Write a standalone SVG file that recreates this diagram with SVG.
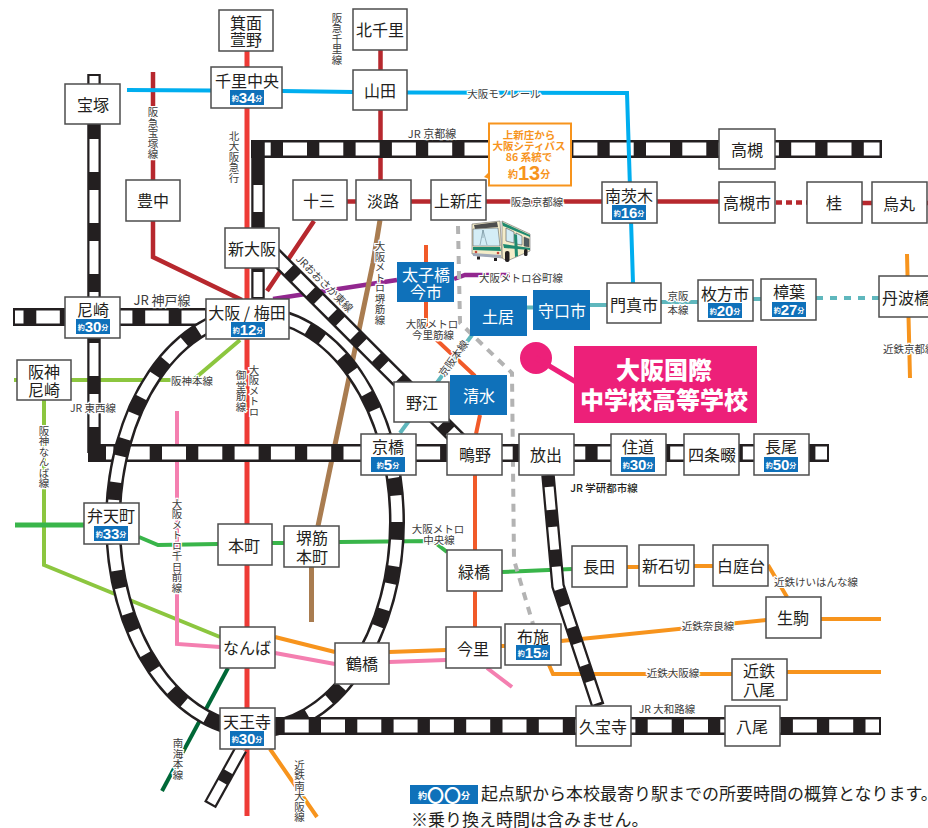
<svg xmlns="http://www.w3.org/2000/svg" width="928" height="828" viewBox="0 0 928 828">
<style>
text{font-family:"Noto Sans CJK JP","Noto Sans",sans-serif;fill:#231f20}
.ln{fill:none;stroke-linejoin:miter}
.red{stroke:#ee3b36;stroke-width:5}
.hk{stroke:#b7282e;stroke-width:4.5}
.mono{stroke:#00aeef;stroke-width:4}
.tani{stroke:#92278f;stroke-width:4.5}
.ima{stroke:#f15a29;stroke-width:4}
.keihan{stroke:#5fb7bd;stroke-width:4}
.brown{stroke:#a97c50;stroke-width:5}
.hs{stroke:#8cc63f;stroke-width:4}
.chuo{stroke:#39b54a;stroke-width:4}
.pink{stroke:#f47fb0;stroke-width:4}
.kin{stroke:#f7941d;stroke-width:4}
.nankai{stroke:#006837;stroke-width:4}
.bus{stroke:#b3b3b3;stroke-width:4;stroke-dasharray:8 7}
.jr{stroke:#231f20;stroke-width:18}
.jw{stroke:#fff;stroke-width:13}
.jrn{stroke:#231f20;stroke-width:13.5}
.jwn{stroke:#fff;stroke-width:9}
.st rect.b{fill:#fff;stroke:#4d4d4d;stroke-width:1.5}
.st text{font-size:16px;text-anchor:middle;dominant-baseline:central}
.blue rect{fill:#0f71ba}
.blue text{fill:#fff;font-size:16px;text-anchor:middle;dominant-baseline:central}
rect.t{fill:#0f71ba}
.st text.m{fill:#fff;font:bold 15px "Liberation Sans","Noto Sans CJK JP",sans-serif}
.s{font-size:7px;font-weight:700;font-family:"Noto Sans CJK JP",sans-serif}
.l{font-size:10.5px;fill:#3c3c3c;text-anchor:middle;dominant-baseline:central;paint-order:stroke;stroke:#fff;stroke-width:2.5px}
.v{writing-mode:vertical-rl;text-orientation:upright}
.o{fill:#f7941d;font-weight:700;text-anchor:middle;dominant-baseline:central}
</style>
<g id="connectors">
<path class="ln red" d="M247 51V816"/>
<path class="ln hk" d="M153 72V180M153 221V257L242 300M380.500 50V180M347 201.500H356M411 201.500H431M486 201.500H602M657 201.500H719M862 203H872M927 203H928M314 221L267 291"/>
<path class="ln hk" d="M775 202.500H807" style="stroke-dasharray:6 4;stroke-dashoffset:-1"/>
<path class="ln tani" d="M273 299L397 280M454 279L465 275H510"/>
<path class="ln ima" d="M426 245V262M426 302V330L475 376M480 415L476 434M475 475V627"/>
<path class="ln keihan" d="M472 335L400 433M527 307.500H533M590 305H607M661 302L698 302M753 299H761"/>
<path class="ln keihan" d="M816 298H879" style="stroke-dasharray:7 7"/>
<path class="ln brown" d="M380 220L373 263L318 526M311.500 567V622"/>
<path class="ln hs" d="M14 380H170M170 380H193L240 340M44 400V565L220 637"/>
<path class="ln chuo" d="M15 525H84" style="stroke-width:5"/>
<path class="ln chuo" d="M139 537L158 545L218 544M272 543H284M339 542L433 541L447 552M502 572L572 569"/>
<path class="ln pink" d="M177 411V644L220 647M275 653L335 664M389 662L446 660M487 668L512 687"/>
<path class="ln kin" d="M275 637L335 652M389 652L446 650M501 646H505M561 641L766 620M821 619H881M549 665L553 674H732M787 672H881M627 567H639M694 566H713M768 565L787 597M907 254L910 378M270 749L317 817"/>
<path class="ln nankai" d="M228 668L162 791"/>
<path class="ln bus" d="M458 226L460 323L512 373L514 560L533 624"/>
<path class="ln jrn" d="M94 74V453"/>
<rect x="89.500" y="76" width="9" height="9" fill="#fff"/>
<path class="ln jwn" d="M94 76V445" style="stroke-dasharray:33 18;stroke-dashoffset:39"/>
<path class="ln jr" d="M13 317H206"/>
<path class="ln jw" d="M15 317H206" style="stroke-dasharray:23.500 12.800;stroke-dashoffset:15"/>
<path class="ln jr" d="M251 149H882"/>
<path class="ln jw" d="M253 149H879.500" style="stroke-dasharray:24 12.300;stroke-dashoffset:6.300"/>
<path class="ln jrn" d="M258 142V300"/>
<path class="ln jwn" d="M258 185V212M258 272V297"/>
<path class="ln jr" d="M88 453H829" />
<path class="ln jw" d="M106 453H827" style="stroke-dasharray:24 12.300;stroke-dashoffset:16.600"/>
<path class="ln jr" d="M270 251L460 441" style="stroke-width:17"/>
<path class="ln jw" d="M270 251L460 441" style="stroke-width:12;stroke-dasharray:20 11;stroke-dashoffset:24.500"/>
<path class="ln" d="M397 522A142 208 0 1 1 113 522A142 208 0 1 1 397 522" style="stroke:#231f20;stroke-width:16"/>
<path class="ln" pathLength="1125" d="M397 522A142 208 0 1 1 113 522A142 208 0 1 1 397 522" style="stroke:#fff;stroke-width:11;stroke-dasharray:27 18;stroke-dashoffset:27"/>
<path class="ln jrn" d="M548 475L558 586L598 706"/>
<path class="ln jwn" d="M548 475L558 586L598 706" style="stroke-dasharray:23 17;stroke-dashoffset:28"/>
<path class="ln jr" d="M273 726H881"/>
<path class="ln jw" d="M273 726H879" style="stroke-dasharray:24 12.300;stroke-dashoffset:24.600"/>
<path class="ln jrn" d="M241 749L210 805"/>
<path class="ln jwn" d="M241 749L211 803" style="stroke-dasharray:26 12"/>
<path class="ln mono" d="M127 90L211 90.500M282 91L353 92M407 92.500L627 93L633 283"/>
</g>
<g id="labels">
<text class="l v" x="337" y="39">阪急千里線</text>
<text class="l v" x="153" y="133.500">阪急宝塚線</text>
<text class="l v" x="234" y="157">北大阪急行</text>
<text class="l v" x="254" y="391">大阪メトロ</text>
<text class="l v" x="241" y="391">御堂筋線</text>
<text class="l v" x="380" y="283">大阪メトロ堺筋線</text>
<text class="l v" x="44" y="457">阪神なんば線</text>
<text class="l v" x="177" y="546">大阪メトロ千日前線</text>
<text class="l v" x="178" y="759">南海本線</text>
<text class="l v" x="299.500" y="791">近鉄南大阪線</text>
<text class="l" transform="translate(325 283) rotate(45)">JRおおさか東線</text>
<text class="l" transform="translate(453 358) rotate(-54)">京阪本線</text>
<text class="l" style="font-size:11px" x="432" y="133">JR 京都線</text>
<text class="l" style="font-size:13px" x="162" y="299">JR 神戸線</text>
<text class="l" x="504" y="93">大阪モノレール</text>
<text class="l" x="537" y="201.500">阪急京都線</text>
<text class="l" x="192" y="380">阪神本線</text>
<text class="l" x="93" y="407">JR 東西線</text>
<text class="l" x="521" y="277">大阪メトロ谷町線</text>
<text class="l" x="432" y="323">大阪メトロ</text>
<text class="l" x="433" y="334">今里筋線</text>
<text class="l" x="678" y="295">京阪</text>
<text class="l" x="678" y="309">本線</text>
<text class="l" style="text-anchor:start" x="883" y="348">近鉄京都線</text>
<text class="l" style="font-weight:500;fill:#231f20" x="604" y="487">JR 学研都市線</text>
<text class="l" x="438" y="528">大阪メトロ</text>
<text class="l" x="439" y="539">中央線</text>
<text class="l" x="816" y="581">近鉄けいはんな線</text>
<text class="l" x="708" y="625">近鉄奈良線</text>
<text class="l" x="673" y="672">近鉄大阪線</text>
<text class="l" x="667" y="708">JR 大和路線</text>
</g>
<g id="n-minoh" class="st"><rect class="b" x="219" y="10" width="54" height="41"/><text x="246" y="22">箕面</text><text x="246" y="39">萱野</text></g>
<g id="n-senri" class="st"><rect class="b" x="211" y="67" width="71" height="41"/><text x="247" y="80">千里中央</text><rect class="t" x="230" y="90" width="34" height="15"/><text class="m" x="247" y="97.500"><tspan class="s">約</tspan>34<tspan class="s">分</tspan></text></g>
<g id="n-kitasenri" class="st"><rect class="b" x="353" y="9" width="54" height="41"/><text x="380" y="29">北千里</text></g>
<g id="n-yamada" class="st"><rect class="b" x="353" y="70" width="54" height="40"/><text x="380" y="90">山田</text></g>
<g id="n-takarazuka" class="st"><rect class="b" x="65" y="84" width="55" height="40"/><text x="93" y="104">宝塚</text></g>
<g id="n-toyonaka" class="st"><rect class="b" x="126" y="180" width="54" height="41"/><text x="153" y="200">豊中</text></g>
<g id="n-juso" class="st"><rect class="b" x="293" y="180" width="54" height="40"/><text x="319" y="200">十三</text></g>
<g id="n-awaji" class="st"><rect class="b" x="356" y="180" width="55" height="40"/><text x="383" y="200">淡路</text></g>
<g id="n-kamishinjo" class="st"><rect class="b" x="431" y="180" width="55" height="40"/><text x="458" y="200">上新庄</text></g>
<g id="n-shinosaka" class="st"><rect class="b" x="225" y="228" width="54" height="40"/><text x="252" y="248">新大阪</text></g>
<g id="n-umeda" class="st"><rect class="b" x="206" y="299" width="83" height="40"/><text x="247" y="312">大阪 / 梅田</text><rect class="t" x="231" y="322" width="34" height="15"/><text class="m" x="248" y="329.500"><tspan class="s">約</tspan>12<tspan class="s">分</tspan></text></g>
<g id="n-amagasaki" class="st"><rect class="b" x="65" y="297" width="55" height="41"/><text x="93" y="309">尼崎</text><rect class="t" x="76" y="319" width="34" height="15"/><text class="m" x="93" y="326.500"><tspan class="s">約</tspan>30<tspan class="s">分</tspan></text></g>
<g id="n-hanshinamagasaki" class="st"><rect class="b" x="17" y="360" width="54" height="40"/><text x="44" y="371">阪神</text><text x="44" y="389">尼崎</text></g>
<g id="n-noe" class="st"><rect class="b" x="394" y="382" width="55" height="40"/><text x="422" y="402">野江</text></g>
<g id="n-kyobashi" class="st"><rect class="b" x="361" y="434" width="55" height="41"/><text x="388" y="446">京橋</text><rect class="t" x="371" y="457" width="34" height="15"/><text class="m" x="388" y="464.500"><tspan class="s">約</tspan>5<tspan class="s">分</tspan></text></g>
<g id="n-shigino" class="st"><rect class="b" x="447" y="434" width="55" height="41"/><text x="475" y="454">鴫野</text></g>
<g id="n-hanaten" class="st"><rect class="b" x="519" y="434" width="55" height="41"/><text x="546" y="454">放出</text></g>
<g id="n-suminodo" class="st"><rect class="b" x="611" y="434" width="55" height="41"/><text x="638" y="446">住道</text><rect class="t" x="621" y="457" width="34" height="15"/><text class="m" x="638" y="464.500"><tspan class="s">約</tspan>30<tspan class="s">分</tspan></text></g>
<g id="n-shijonawate" class="st"><rect class="b" x="684" y="434" width="55" height="41"/><text x="712" y="454">四条畷</text></g>
<g id="n-nagao" class="st"><rect class="b" x="754" y="434" width="55" height="41"/><text x="781" y="446">長尾</text><rect class="t" x="764" y="457" width="34" height="15"/><text class="m" x="781" y="464.500"><tspan class="s">約</tspan>50<tspan class="s">分</tspan></text></g>
<g id="n-minamiibaraki" class="st"><rect class="b" x="602" y="182" width="55" height="41"/><text x="629" y="195">南茨木</text><rect class="t" x="612" y="205" width="34" height="15"/><text class="m" x="629" y="212.500"><tspan class="s">約</tspan>16<tspan class="s">分</tspan></text></g>
<g id="n-takatsuki" class="st"><rect class="b" x="719" y="129" width="56" height="40"/><text x="747" y="149">高槻</text></g>
<g id="n-takatsukishi" class="st"><rect class="b" x="719" y="182" width="56" height="41"/><text x="747" y="202">高槻市</text></g>
<g id="n-katsura" class="st"><rect class="b" x="807" y="182" width="55" height="41"/><text x="834" y="202">桂</text></g>
<g id="n-karasuma" class="st"><rect class="b" x="872" y="182" width="55" height="41"/><text x="899" y="203">烏丸</text></g>
<g id="n-kadoma" class="st"><rect class="b" x="607" y="283" width="54" height="40"/><text x="634" y="304">門真市</text></g>
<g id="n-hirakata" class="st"><rect class="b" x="698" y="280" width="55" height="41"/><text x="725" y="293">枚方市</text><rect class="t" x="708" y="303" width="34" height="15"/><text class="m" x="725" y="310.500"><tspan class="s">約</tspan>20<tspan class="s">分</tspan></text></g>
<g id="n-kusuba" class="st"><rect class="b" x="761" y="279" width="55" height="41"/><text x="789" y="291">樟葉</text><rect class="t" x="772" y="302" width="34" height="15"/><text class="m" x="789" y="309.500"><tspan class="s">約</tspan>27<tspan class="s">分</tspan></text></g>
<g id="n-tambabashi" class="st"><rect class="b" x="879" y="276" width="60" height="41"/><text x="906" y="297">丹波橋</text></g>
<g id="n-bentencho" class="st"><rect class="b" x="84" y="503" width="55" height="41"/><text x="111" y="515">弁天町</text><rect class="t" x="94" y="526" width="34" height="15"/><text class="m" x="111" y="533.500"><tspan class="s">約</tspan>33<tspan class="s">分</tspan></text></g>
<g id="n-hommachi" class="st"><rect class="b" x="218" y="524" width="54" height="41"/><text x="244" y="545">本町</text></g>
<g id="n-sakaisuji" class="st"><rect class="b" x="284" y="526" width="55" height="41"/><text x="312" y="537">堺筋</text><text x="312" y="556">本町</text></g>
<g id="n-midoribashi" class="st"><rect class="b" x="447" y="550" width="55" height="41"/><text x="474" y="571">緑橋</text></g>
<g id="n-namba" class="st"><rect class="b" x="220" y="627" width="55" height="41"/><text x="247" y="647">なんば</text></g>
<g id="n-tsuruhashi" class="st"><rect class="b" x="335" y="643" width="54" height="41"/><text x="362" y="663">鶴橋</text></g>
<g id="n-imazato" class="st"><rect class="b" x="446" y="627" width="55" height="41"/><text x="473" y="648">今里</text></g>
<g id="n-fuse" class="st"><rect class="b" x="505" y="624" width="56" height="41"/><text x="533" y="636">布施</text><rect class="t" x="516" y="645" width="34" height="15"/><text class="m" x="533" y="652.500"><tspan class="s">約</tspan>15<tspan class="s">分</tspan></text></g>
<g id="n-tennoji" class="st"><rect class="b" x="220" y="708" width="55" height="41"/><text x="247" y="721">天王寺</text><rect class="t" x="230" y="731" width="34" height="15"/><text class="m" x="247" y="738.500"><tspan class="s">約</tspan>30<tspan class="s">分</tspan></text></g>
<g id="n-nagata" class="st"><rect class="b" x="572" y="546" width="55" height="41"/><text x="599" y="566">長田</text></g>
<g id="n-shinishikiri" class="st"><rect class="b" x="639" y="545" width="55" height="41"/><text x="666" y="565">新石切</text></g>
<g id="n-shiraniwadai" class="st"><rect class="b" x="713" y="545" width="55" height="41"/><text x="741" y="565">白庭台</text></g>
<g id="n-ikoma" class="st"><rect class="b" x="766" y="597" width="55" height="41"/><text x="793" y="617">生駒</text></g>
<g id="n-kintetsuyao" class="st"><rect class="b" x="732" y="659" width="55" height="41"/><text x="759" y="670">近鉄</text><text x="759" y="689">八尾</text></g>
<g id="n-kyuhoji" class="st"><rect class="b" x="576" y="706" width="55" height="40"/><text x="603" y="726">久宝寺</text></g>
<g id="n-yao" class="st"><rect class="b" x="725" y="706" width="55" height="40"/><text x="752" y="726">八尾</text></g>
<g id="n-taishibashi" class="blue"><rect x="397" y="262" width="57" height="40"/><text x="426" y="274">太子橋</text><text x="426" y="291">今市</text></g>
<g id="n-doi" class="blue"><rect x="470" y="296" width="57" height="40"/><text x="498" y="316">土居</text></g>
<g id="n-moriguchi" class="blue"><rect x="533" y="290" width="57" height="40"/><text x="562" y="310">守口市</text></g>
<g id="n-shimizu" class="blue"><rect x="450" y="375" width="57" height="40"/><text x="479" y="395">清水</text></g>
<g id="bus-note">
<polygon points="484,177 489,172 489,179" fill="#f7941d"/>
<rect x="489" y="123.500" width="82" height="62" fill="#fff" stroke="#f7941d" stroke-width="2"/>
<text class="o" style="font-size:10.500px" x="529" y="134">上新庄から</text>
<text class="o" style="font-size:10.500px" x="529" y="145">大阪シティバス</text>
<text class="o" style="font-size:10.500px" x="529" y="156.500">86 系統で</text>
<text class="o" style="font-size:10px" x="529" y="173">約<tspan style="font:bold 20px 'Liberation Sans',sans-serif">13</tspan>分</text>
</g>
<g id="bus">
<polygon points="502,221 530,234 530,251 507,261 502,258" fill="#f4ecc9" stroke="#4d4d4d" stroke-width=".5"/>
<polygon points="472,224 500,221 502,258 472,254" fill="#f4ecc9" stroke="#4d4d4d" stroke-width=".5"/>
<polygon points="502,222 530,235 530,237 503,226" fill="#1f8a70"/>
<polygon points="474,225 497,222 498,227 475,229" fill="#4d4d4d"/>
<polygon points="473,229 498,228 500,246 473,246" fill="#d4edf6" stroke="#4d4d4d" stroke-width=".5"/>
<path d="M483 230L480 245M483 230L487 245M483 230V238" stroke="#6d8a96" stroke-width=".6" fill="none"/>
<polygon points="473,247 500,247 501,251 473,250" fill="#1f8a70"/>
<polygon points="473,253 501,255 501,258 473,256" fill="#9fa8b8"/>
<circle cx="476" cy="252" r="1.300" fill="#c8483a"/><circle cx="498" cy="253" r="1.300" fill="#c8483a"/>
<polygon points="506,228 514,232 514,243 506,241" fill="#d4edf6" stroke="#4d4d4d" stroke-width=".6"/>
<polygon points="516,233 522,236 522,245 516,244" fill="#d4edf6" stroke="#4d4d4d" stroke-width=".6"/>
<polygon points="524,237 529,239 529,247 524,246" fill="#4d5b60" stroke="#4d4d4d" stroke-width=".5"/>
<polygon points="503,244 530,248 530,250 504,248" fill="#1f8a70"/>
<polygon points="514,234 517,235 518,256 515,257" fill="#1f8a70"/>
<rect x="477" y="256.500" width="3" height="3" fill="#231f20"/><rect x="494" y="258" width="3" height="3" fill="#231f20"/>
<rect x="505" y="251" width="4.500" height="11" rx="2" fill="#231f20"/>
<rect x="524" y="249" width="3.500" height="7" rx="1.500" fill="#231f20"/>
</g>
<g id="school">
<circle cx="536" cy="358" r="16" fill="#ed2079"/>
<path d="M536 358L576 382" stroke="#ed2079" stroke-width="5" fill="none"/>
<rect x="574" y="346" width="183" height="77" fill="#ed2079"/>
<text x="664" y="368" style="fill:#fff;font-size:24px;font-weight:900;text-anchor:middle;dominant-baseline:central">大阪国際</text>
<text x="664" y="398" style="fill:#fff;font-size:24px;font-weight:900;text-anchor:middle;dominant-baseline:central">中学校高等学校</text>
</g>
<g id="legend">
<rect x="410" y="785" width="68" height="19" fill="#0f71ba"/>
<text x="444" y="794.500" style="fill:#fff;font-size:17px;font-weight:700;text-anchor:middle;dominant-baseline:central"><tspan style="font-size:9px">約</tspan>〇〇<tspan style="font-size:9px">分</tspan></text>
<text x="481" y="800" style="font-size:17px">起点駅から本校最寄り駅までの所要時間の概算となります。</text>
<text x="411" y="826" style="font-size:17px">※乗り換え時間は含みません。</text>
</g>
</svg>
